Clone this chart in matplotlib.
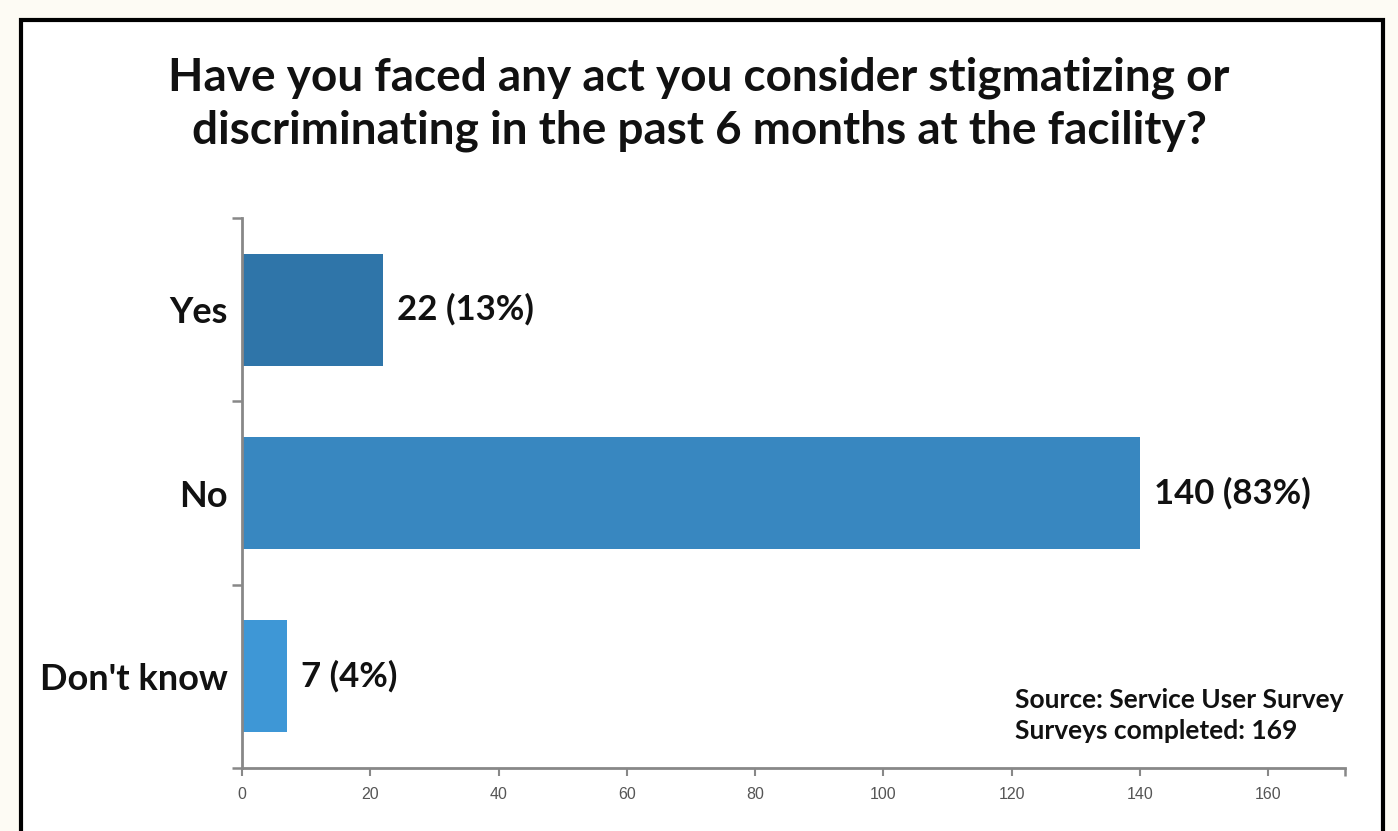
import matplotlib
matplotlib.use("Agg")
import matplotlib.pyplot as plt
from matplotlib.patches import Rectangle

categories = ["Yes", "No", "Don't know"]
counts = [22, 140, 7]
percents = [13, 83, 4]
bar_colors = ["#2f75a9", "#3887c0", "#3e97d6"]
x_ticks = [0, 20, 40, 60, 80, 100, 120, 140, 160]
x_max = 172
title = "Have you faced any act you consider stigmatizing or\ndiscriminating in the past 6 months at the facility?"
note = "Source: Service User Survey\nSurveys completed: 169"

FONT = ["Lato", "DejaVu Sans"]

fig = plt.figure(figsize=(13.98, 8.31), dpi=100)
fig.patch.set_facecolor("#fdfbf4")

# white panel with black border
panel = Rectangle((21 / 1398, -0.05), (1383 - 21) / 1398, (831 - 20) / 831 + 0.05,
                  transform=fig.transFigure, facecolor="white", edgecolor="black",
                  linewidth=3, zorder=-10)
fig.patches.append(panel)

ax = fig.add_axes([242 / 1398, 63 / 831, (1345 - 242) / 1398, (768 - 218) / 831])
ax.set_zorder(5)
ax.set_facecolor("none")

ypos = list(range(len(categories)))
ax.barh(ypos, counts, height=0.61, color=bar_colors, zorder=2)

for y, c, p in zip(ypos, counts, percents):
    ax.annotate(f"{c} ({p}%)", xy=(c, y), xytext=(10, 0), textcoords="offset points",
                ha="left", va="center", fontsize=25, fontweight="bold",
                family=FONT, color="#111111")

ax.set_xlim(0, x_max)
ax.set_ylim(len(categories) - 0.5, -0.5)

ax.set_yticks(ypos)
ax.set_yticklabels(categories, fontsize=26, fontweight="bold", family=FONT, color="#111111")
ax.tick_params(axis="y", which="major", length=0, pad=10)
ax.set_yticks([i - 0.5 for i in range(len(categories) + 1)], minor=True)
ax.tick_params(axis="y", which="minor", length=7, width=1.8, color="#888888", direction="out")

ax.set_xticks(x_ticks)
ax.set_xticklabels([str(t) for t in x_ticks], fontsize=11.5, family=["Liberation Sans"], color="#555555")
ax.set_xticks([x_max], minor=True)
ax.tick_params(axis="x", which="major", length=6, width=1.5, color="#888888", pad=8)
ax.tick_params(axis="x", which="minor", length=6, width=1.8, color="#888888")

for s in ["top", "right"]:
    ax.spines[s].set_visible(False)
for s in ["left", "bottom"]:
    ax.spines[s].set_color("#888888")
    ax.spines[s].set_linewidth(2)

fig.text(0.5, 1 - 104 / 831, title, ha="center", va="center", fontsize=33,
         fontweight="bold", family=FONT, color="#111111", linespacing=1.3)

fig.text(1015 / 1398, 1 - 700 / 831, note.split("\n")[0], ha="left", va="center", fontsize=19,
         fontweight="bold", family=FONT, color="#111111")
fig.text(1015 / 1398, 1 - 731 / 831, note.split("\n")[1], ha="left", va="center", fontsize=19,
         fontweight="bold", family=FONT, color="#111111")

fig.savefig("out.png", dpi=100, facecolor=fig.get_facecolor())
